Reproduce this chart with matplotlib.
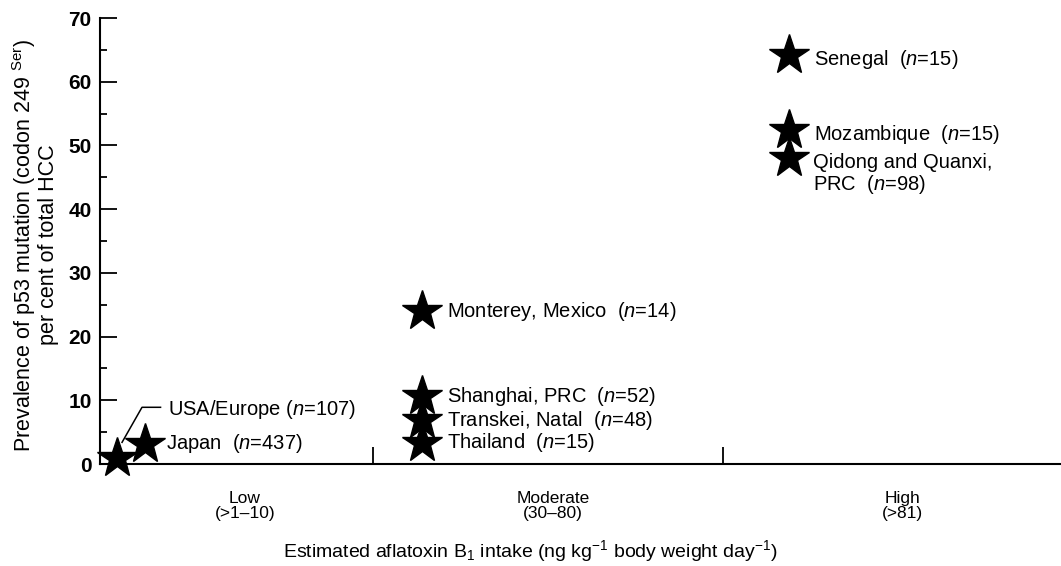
import numpy as np
import matplotlib
matplotlib.use("Agg")
import matplotlib.pyplot as plt

plt.rcParams['font.family'] = ['Liberation Sans', 'DejaVu Sans']
plt.rcParams['mathtext.fontset'] = 'custom'
plt.rcParams['mathtext.rm'] = 'Liberation Sans'
plt.rcParams['mathtext.it'] = 'Liberation Sans:italic'

# data (x: position on the intake axis, 1 and 2 = category borders)
places = ["USA/Europe", "Japan", "Monterey, Mexico", "Shanghai, PRC", "Transkei, Natal",
          "Thailand", "Senegal", "Mozambique", "Qidong and Quanxi,\nPRC"]
n_cases = [107, 437, 14, 52, 48, 15, 15, 15, 98]
xpos = [0.27, 0.35, 1.14, 1.14, 1.14, 1.14, 2.19, 2.19, 2.19]
prevalence = [1.0, 3.2, 24.0, 10.6, 6.9, 3.3, 64.2, 52.4, 48.0]

cat_labels = ["Low\n(>1\u201310)", "Moderate\n(30\u201380)", "High\n(>81)"]
cat_centers = [0.634, 1.514, 2.514]
cat_borders = [1.0, 2.0]

fig = plt.figure(figsize=(10.61, 5.66), dpi=100)
ax = fig.add_axes([100/1061, 1-464/566, 1-100/1061, (464-18)/566])

ax.plot(xpos, prevalence, linestyle='none', marker='*', markersize=30,
        color='black', clip_on=False, zorder=3)

fs = 14.5
for i in range(len(places)):
    lab = places[i]
    if i == 0:
        continue
    if "\n" in lab:
        first, second = lab.split("\n")
        txt = first + "\n" + second + "  ($n$=%d)" % n_cases[i]
        ax.annotate(txt, (xpos[i], prevalence[i]), xytext=(17, 4), textcoords='offset points',
                    va='top', ha='left', fontsize=fs, linespacing=1.1)
    else:
        dy = -3 if i >= 6 else 0
        ax.annotate(lab + "  ($n$=%d)" % n_cases[i], (xpos[i], prevalence[i]),
                    xytext=(18 if i > 1 else 15, dy), textcoords='offset points',
                    va='center', ha='left', fontsize=fs)

# USA/Europe with leader line
ax.annotate("USA/Europe ($n$=%d)" % n_cases[0], (xpos[0], prevalence[0]),
            xytext=(0.414, 8.6), textcoords='data', va='center', ha='left', fontsize=fs)
ax.plot([0.283, 0.34, 0.393], [3.4, 8.9, 8.9], color='black', lw=1.1, clip_on=False)

ax.set_xlim(0.22, 2.966)
ax.set_ylim(0, 70)

ax.spines['top'].set_visible(False)
ax.spines['right'].set_visible(False)
ax.spines['left'].set_linewidth(1.5)
ax.spines['bottom'].set_linewidth(1.5)

ax.set_yticks(np.arange(0, 71, 10))
ax.set_yticks(np.arange(5, 70, 10), minor=True)
ax.tick_params(axis='y', which='major', direction='in', length=12, width=1.3,
               labelsize=15, pad=6)
ax.tick_params(axis='y', which='minor', direction='in', length=5, width=1.3)
for t in ax.get_yticklabels():
    t.set_fontweight('bold')

ax.set_xticks(cat_borders)
ax.set_xticklabels([])
ax.tick_params(axis='x', which='major', direction='in', length=12, width=1.3)

for c, lab in zip(cat_centers, cat_labels):
    ax.text(c, -0.06, lab, transform=ax.get_xaxis_transform(), ha='center', va='top',
            fontsize=12.5, linespacing=1.05)

fig.text(530/1061, 1-551/566,
         r"Estimated aflatoxin B$_1$ intake (ng kg$^{-1}$ body weight day$^{-1}$)",
         ha='center', va='center', fontsize=14)
fig.text(35/1061, 1-245/566,
         "Prevalence of p53 mutation (codon 249 $^{\\mathrm{Ser}}$)\nper cent of total HCC",
         ha='center', va='center', rotation=90, fontsize=15.5, linespacing=1.0)

fig.savefig("out.png", dpi=100)
